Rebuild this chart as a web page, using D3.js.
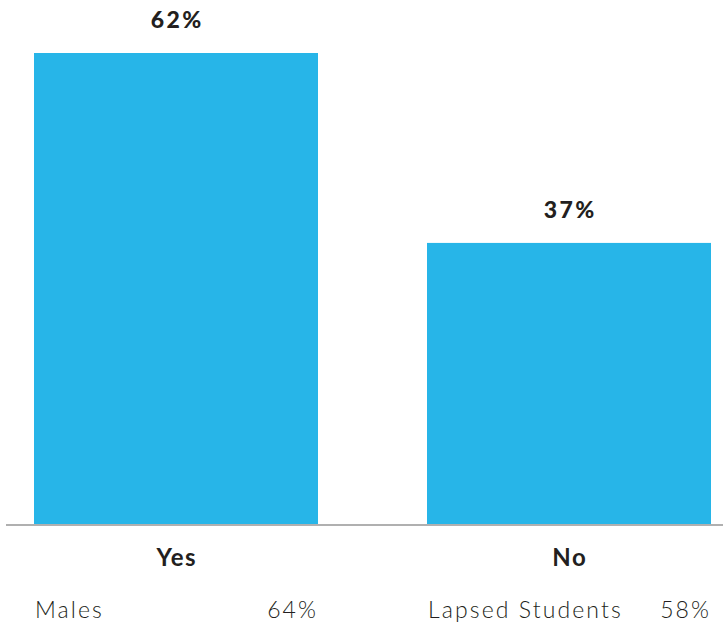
<!DOCTYPE html>
<html>
<head>
<meta charset="utf-8">
<script src="https://cdn.jsdelivr.net/npm/d3@7"></script>
<style>
html,body{margin:0;padding:0;background:#fff;}
svg{display:block;}
</style>
</head>
<body>
<svg id="chart" width="723" height="626"></svg>
<script>
const categories = ["Yes", "No"];
const values = [62, 37];
const valueLabels = ["62%", "37%"];
const subLabels = ["Males", "Lapsed Students"];
const subValues = ["64%", "58%"];

const svg = d3.select("#chart");
const W = 723, H = 626;
const baseY = 524;

const x = d3.scaleBand().domain(categories).range([34, 711]).paddingInner(109/393).paddingOuter(0);
const y = d3.scaleLinear().domain([0, 62]).range([baseY, 53]);

const font = "Lato, 'Open Sans', sans-serif";

svg.selectAll("rect.bar").data(categories).enter().append("rect")
  .attr("class", "bar")
  .attr("x", d => x(d))
  .attr("width", x.bandwidth())
  .attr("y", (d, i) => y(values[i]))
  .attr("height", (d, i) => baseY - y(values[i]))
  .attr("fill", "#27b5e8");

// baseline
svg.append("line")
  .attr("x1", 6).attr("x2", W)
  .attr("y1", baseY + 1).attr("y2", baseY + 1)
  .attr("stroke", "#b0b0b0").attr("stroke-width", 2);

// value labels
svg.selectAll("text.val").data(categories).enter().append("text")
  .attr("class", "val")
  .attr("x", d => x(d) + x.bandwidth() / 2)
  .attr("dx", 1.2)
  .attr("y", (d, i) => y(values[i]) - 25)
  .attr("text-anchor", "middle")
  .attr("font-family", font)
  .attr("font-weight", 900)
  .attr("font-size", 23)
  .attr("letter-spacing", 2.4)
  .attr("fill", "#231f20")
  .text((d, i) => valueLabels[i]);

// category labels
svg.selectAll("text.cat").data(categories).enter().append("text")
  .attr("class", "cat")
  .attr("x", d => x(d) + x.bandwidth() / 2)
  .attr("dx", 0.8)
  .attr("y", 566)
  .attr("text-anchor", "middle")
  .attr("font-family", font)
  .attr("font-weight", 700)
  .attr("font-size", 24)
  .attr("letter-spacing", 1.5)
  .attr("fill", "#231f20")
  .text(d => d);

// sub labels
svg.selectAll("text.sub").data(categories).enter().append("text")
  .attr("class", "sub")
  .attr("x", d => x(d) + 1)
  .attr("y", 618)
  .attr("text-anchor", "start")
  .attr("font-family", font)
  .attr("font-weight", 300)
  .attr("font-size", 23)
  .attr("letter-spacing", 2.1)
  .attr("fill", "#231f20")
  .text((d, i) => subLabels[i]);

svg.selectAll("text.subv").data(categories).enter().append("text")
  .attr("class", "subv")
  .attr("x", d => x(d) + x.bandwidth() - 2)
  .attr("dx", 2.1)
  .attr("y", 618)
  .attr("text-anchor", "end")
  .attr("font-family", font)
  .attr("font-weight", 300)
  .attr("font-size", 23)
  .attr("letter-spacing", 2.1)
  .attr("fill", "#231f20")
  .text((d, i) => subValues[i]);
</script>
</body>
</html>
